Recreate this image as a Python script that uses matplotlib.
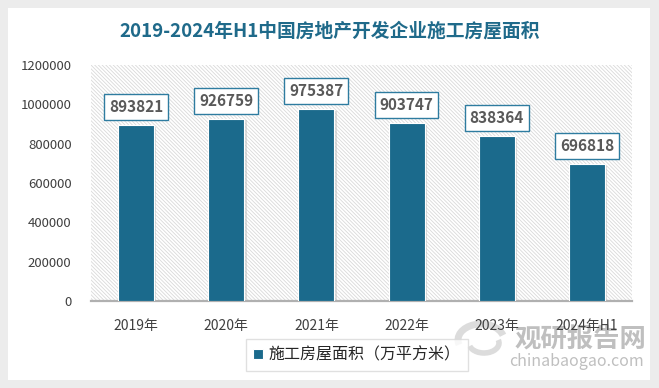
import matplotlib
matplotlib.use('Agg')
import matplotlib.pyplot as plt
from matplotlib.patches import Rectangle, Arc

plt.rcParams['font.family'] = ['Noto Sans CJK SC', 'DejaVu Sans']
plt.rcParams['hatch.color'] = '#D9D9D9'
plt.rcParams['hatch.linewidth'] = 0.6

# 数据
years = ['2019年', '2020年', '2021年', '2022年', '2023年', '2024年H1']
area = [893821, 926759, 975387, 903747, 838364, 696818]
yticks = [0, 200000, 400000, 600000, 800000, 1000000, 1200000]

C_BAR = '#1B6A8C'
C_TITLE = '#1F6A8A'
C_TEXT = '#404040'
C_WM = '#B4B4B4'

W, H = 659, 388
fig = plt.figure(figsize=(W / 100, H / 100), dpi=100)
fig.patch.set_facecolor('#ECECEC')
fig.patches.append(Rectangle((8 / W, 8 / H), 642 / W, 372 / H, transform=fig.transFigure,
                             facecolor='white', edgecolor='none', zorder=-5))

ax = fig.add_axes([91 / W, (H - 301) / H, 541 / W, 236 / H])
ax.set_facecolor('white')
ax.add_patch(Rectangle((0, 0), 1, 1, transform=ax.transAxes, facecolor='white',
                       edgecolor='#D9D9D9', linewidth=0, hatch=chr(92) * 9, zorder=0))

x = list(range(len(years)))
# 阴影
ax.bar([i + 0.025 for i in x], [v - 8000 for v in area], width=0.4, color='#BDBDBD',
       alpha=0.5, edgecolor='none', zorder=2)
bars = ax.bar(x, area, width=0.4, color=C_BAR, edgecolor='white', linewidth=0.8, zorder=3)
for b, v in zip(bars, area):
    ax.text(b.get_x() + b.get_width() / 2, v + 91000, f'{v}', ha='center', va='center',
            fontsize=11, fontweight='bold', color='#595959', zorder=4,
            bbox=dict(boxstyle='square,pad=0.32', facecolor='white', edgecolor='#2E7CA0', lw=1))

ax.set_xlim(-0.5, len(years) - 0.5)
ax.set_ylim(0, 1200000)
ax.set_yticks(yticks)
ax.set_yticklabels([str(t) for t in yticks], fontsize=9.5, color=C_TEXT)
ax.set_xticks(x)
ax.set_xticklabels(years, fontsize=10, color=C_TEXT)
ax.tick_params(length=0, pad=13)
ax.tick_params(axis='y', pad=14)
for s in ['top', 'right', 'left']:
    ax.spines[s].set_visible(False)
ax.spines['bottom'].set_color('#B0B0B0')
ax.spines['bottom'].set_linewidth(1.6)

fig.text(330 / W, 1 - 31 / H, '2019-2024年H1中国房地产开发企业施工房屋面积', ha='center', va='center',
         fontsize=13.5, fontweight='bold', color=C_TITLE)

leg = ax.legend([bars], ['施工房屋面积（万平方米）'], loc='center',
                bbox_to_anchor=(357 / W, 1 - 355 / H), bbox_transform=fig.transFigure,
                fontsize=11.5, frameon=True, fancybox=False, edgecolor='#D9D9D9',
                handlelength=0.6, handleheight=0.6, handletextpad=0.35, borderpad=0.45)
leg.get_frame().set_linewidth(1.0)
for t in leg.get_texts():
    t.set_color('#262626')

# 水印
fig.patches.append(Arc((481 / W, 1 - 340 / H), 46 / W, 32 / H, theta1=20, theta2=200,
                       transform=fig.transFigure, color='#DCDCDC', lw=5, zorder=-1))
fig.patches.append(Arc((484 / W, 1 - 343 / H), 30 / W, 20 / H, theta1=200, theta2=380,
                       transform=fig.transFigure, color='#DCDCDC', lw=4, zorder=-1))
fig.text(580 / W, 1 - 340 / H, '观研报告网', ha='center', va='center', fontsize=19,
         fontweight='bold', color=C_WM, alpha=0.85, zorder=-1)
fig.text(577 / W, 1 - 362 / H, 'chinabaogao.com', ha='center', va='center', fontsize=11.5,
         color=C_WM, alpha=0.85, zorder=-1)

fig.savefig('out.png', dpi=100, facecolor=fig.get_facecolor())
